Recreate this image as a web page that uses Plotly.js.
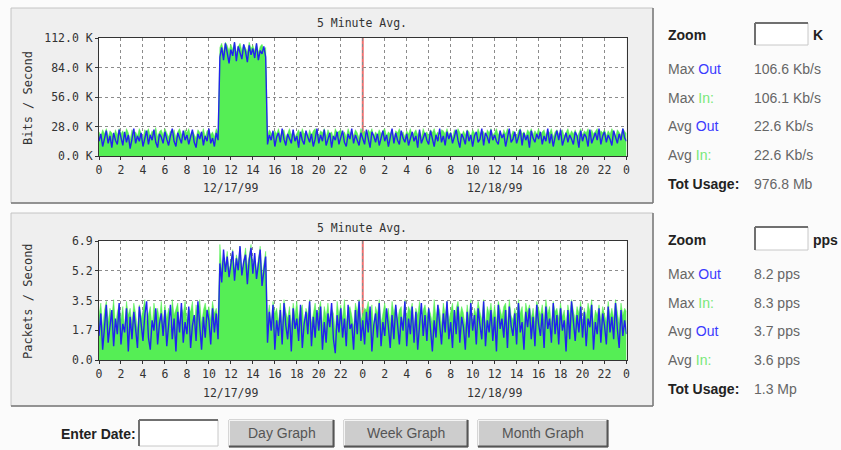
<!DOCTYPE html>
<html><head><meta charset="utf-8">
<script src="https://cdn.plot.ly/plotly-3.0.1.min.js"></script>
<style>html,body{margin:0;padding:0;background:#fbfbfb;}#chart{width:841px;height:450px;}</style>
</head><body><div id="chart"></div>
<script>
// ---- data (10-minute samples, 12/17/99 00:00 .. 12/19/99 00:00) ----
const sampleMinutes = 10;
const hourTickVals = [0,2,4,6,8,10,12,14,16,18,20,22,24,26,28,30,32,34,36,38,40,42,44,46,48];
const hourTickText = ['0','2','4','6','8','10','12','14','16','18','20','22','0','2','4','6','8','10','12','14','16','18','20','22','0'];
const dateLabels = ['12/17/99','12/18/99'];
const dateLabelHours = [12, 36];
const midnightHour = 24;

const bitsOut = [
  14,21,9,17,24,12,19,8,22,15,11,25,
  18,10,23,13,20,7,16,26,12,19,14,22,
  9,17,24,11,20,15,25,13,8,21,18,12,
  23,16,10,19,26,14,9,22,17,12,24,15,
  20,11,18,25,13,8,21,16,23,10,19,14,
  26,12,17,9,22,15,94,103,91,107,98,88,
  101,95,108,90,104,97,92,106,99,89,105,96,
  102,93,107,91,100,97,104,94,11,20,15,24,
  9,18,22,13,26,16,10,21,17,12,25,14,
  19,8,23,15,11,24,18,13,21,9,16,26,
  12,20,14,25,10,17,22,8,19,15,23,11,
  18,24,13,9,21,16,26,12,20,14,10,22,
  17,11,25,15,8,23,19,13,21,10,16,24,
  14,20,9,18,26,12,22,15,11,24,17,13,
  21,10,16,23,14,19,8,25,12,18,22,15,
  11,24,17,9,20,14,26,13,19,10,23,16,
  22,12,18,25,15,8,21,17,11,24,14,20,
  9,19,23,13,16,26,10,22,18,12,25,15,
  20,14,11,24,17,21,9,19,26,13,16,23,
  12,18,25,10,22,15,20,8,24,17,13,21,
  16,23,11,19,14,26,12,21,9,18,24,15,
  25,10,17,22,13,20,16,11,23,19,8,24,
  14,21,18,9,25,12,17,22,15,26,11,19,
  23,13,20,16,10,24,18,12,21,15,26,17,
  14];
const bitsIn = [
  23,19,25,21,26,18,24,22,17,25,20,26,
  21,24,18,26,22,16,25,20,23,19,26,22,
  17,25,22,26,19,24,21,27,18,23,25,20,
  26,22,18,24,20,25,17,23,26,21,19,25,
  22,26,19,24,21,17,25,23,20,26,18,24,
  25,20,23,18,26,22,103,107,99,108,105,100,
  106,101,108,98,104,107,100,106,103,99,108,102,
  105,100,107,98,104,106,101,103,20,25,22,18,
  24,21,26,19,23,25,17,22,26,20,24,18,
  22,25,19,26,21,23,18,25,20,24,26,21,
  19,24,22,26,18,25,21,23,17,26,22,24,
  25,20,23,18,26,21,24,19,25,22,17,26,
  21,24,19,25,22,26,18,23,20,25,21,24,
  26,19,23,21,25,17,24,22,26,20,23,18,
  24,21,26,19,22,25,20,24,18,26,21,23,
  19,25,22,26,20,23,17,25,24,21,26,20,
  23,18,25,21,26,22,19,24,20,25,23,18,
  25,22,19,26,21,24,23,17,25,22,26,20,
  22,26,20,24,18,25,21,26,23,19,24,22,
  18,24,26,21,23,19,25,22,26,20,24,21,
  26,20,23,25,19,24,22,26,18,23,25,21,
  23,25,19,22,26,20,24,21,25,18,23,26,
  20,24,22,26,19,25,21,23,26,20,24,22,
  25,19,24,21,26,22,18,25,23,20,26,24,
  21];
const pktsOut = [
  1.4,2.7,0.6,2.2,3.2,1.0,1.9,2.9,0.8,2.4,1.5,3.3,
  0.9,2.1,1.6,3.0,0.5,2.5,1.2,2.8,1.8,0.7,3.1,2.0,
  1.1,2.6,3.4,1.3,0.6,2.3,1.7,3.0,0.9,2.1,2.7,1.4,
  2.9,0.8,1.9,3.2,1.2,2.4,0.5,2.8,1.6,3.3,1.0,2.2,
  1.5,3.1,0.7,2.0,2.6,1.1,3.4,1.8,0.6,2.5,1.3,2.9,
  2.3,0.9,3.0,1.6,2.7,1.2,5.6,4.5,6.4,5.1,6.0,4.8,
  5.5,6.3,4.6,5.9,5.2,6.6,4.9,5.7,6.1,4.4,5.8,6.5,
  5.0,6.2,4.7,5.6,6.4,4.3,5.3,6.0,1.0,2.8,1.7,3.2,
  0.6,2.3,1.4,2.9,0.9,3.3,2.0,1.2,2.6,0.5,3.0,1.8,
  2.4,1.1,3.2,0.7,2.1,2.8,1.5,3.4,0.8,2.5,1.3,2.9,
  1.7,3.1,0.6,2.2,1.0,2.7,1.9,3.3,1.2,0.4,2.6,1.6,
  3.0,1.3,2.4,0.8,3.2,1.8,2.1,0.6,2.9,1.5,3.4,1.1,
  2.3,0.9,2.8,1.6,3.1,0.5,2.0,2.7,1.3,3.3,0.8,2.2,
  1.4,3.0,1.9,0.7,2.6,1.2,3.2,2.1,0.9,2.5,1.7,3.4,
  0.8,2.4,1.5,3.1,1.0,2.8,0.6,2.0,3.3,1.4,2.6,1.1,
  3.0,1.8,0.5,2.3,1.3,3.2,2.1,0.9,2.7,1.6,3.4,1.2,
  2.2,0.7,2.9,1.5,3.1,1.0,2.5,1.9,0.6,2.8,1.3,3.3,
  1.7,2.6,0.9,3.0,2.0,1.2,3.4,0.8,2.3,1.6,2.9,1.1,
  2.5,0.5,3.2,1.8,2.4,1.3,2.9,0.7,3.1,2.0,1.4,2.7,
  0.9,3.3,1.6,2.2,0.6,2.8,1.9,3.0,1.2,2.5,0.8,3.2,
  2.1,1.4,2.7,0.7,3.1,1.8,2.4,1.0,3.3,1.5,2.6,0.9,
  3.0,1.7,2.3,0.5,2.9,1.2,3.4,2.0,1.1,2.6,1.6,3.1,
  1.3,2.8,0.8,2.4,1.9,3.2,0.6,2.2,1.5,3.0,1.0,2.7,
  2.0,0.9,3.1,1.6,2.5,1.2,3.3,1.8,0.7,2.9,1.4,2.3,
  1.5];
const pktsIn = [
  2.6,3.3,1.9,2.9,3.4,2.2,3.0,2.5,3.5,2.0,2.8,3.2,
  2.3,3.1,1.8,3.4,2.6,3.0,2.1,3.3,2.7,1.7,3.2,2.4,
  2.9,3.5,2.2,2.7,3.1,1.9,3.3,2.5,3.0,2.3,3.4,2.1,
  3.2,2.4,3.0,1.8,3.5,2.6,2.9,3.3,2.0,3.1,2.7,3.4,
  2.2,3.0,2.8,3.4,1.9,3.2,2.5,3.5,2.1,2.9,3.3,2.6,
  3.1,2.3,3.4,2.7,3.0,2.4,6.7,5.3,6.0,5.5,6.3,5.1,
  5.8,6.4,5.2,6.1,5.6,6.6,5.0,5.9,6.5,5.4,6.2,6.7,
  5.3,6.0,5.1,5.8,6.6,4.9,5.6,6.3,2.5,3.2,2.0,3.4,
  2.7,3.0,2.2,3.3,1.9,3.5,2.8,2.4,3.1,2.0,3.3,2.6,
  3.4,2.3,2.9,3.2,1.8,3.0,2.6,3.5,2.1,2.8,3.3,2.4,
  2.9,3.4,2.0,3.1,2.5,3.3,2.2,3.0,2.7,1.7,3.4,2.6,
  3.2,2.4,3.5,2.1,2.9,3.1,2.6,1.9,3.3,2.8,3.5,2.3,
  2.6,3.0,2.9,3.4,2.2,3.2,1.8,3.1,2.7,3.5,2.1,2.8,
  3.3,2.5,3.0,2.1,3.4,2.7,3.2,2.3,2.9,3.1,2.0,3.5,
  2.4,3.1,2.8,3.3,1.9,3.0,2.6,3.4,2.2,2.9,3.2,2.5,
  3.0,2.7,2.1,3.5,2.4,3.2,2.9,2.0,3.3,2.6,3.4,2.3,
  2.8,3.3,2.2,3.0,3.4,2.5,3.1,2.7,1.9,3.2,2.4,3.5,
  2.1,3.0,2.6,3.4,2.8,2.3,3.5,2.0,3.1,2.7,3.3,2.4,
  3.2,2.2,3.4,2.9,2.5,3.1,3.3,2.1,3.5,2.6,2.3,3.0,
  2.5,3.5,2.7,3.1,2.0,3.3,2.8,3.2,2.4,3.0,2.2,3.4,
  3.0,2.6,3.2,2.3,3.5,2.7,3.1,2.1,3.4,2.8,3.0,2.4,
  3.3,2.5,2.9,2.0,3.2,2.6,3.5,2.8,2.3,3.1,2.7,3.4,
  2.2,3.0,2.4,3.3,2.8,3.5,2.1,2.9,2.6,3.2,2.3,3.1,
  2.7,2.2,3.4,2.5,3.0,2.4,3.5,2.9,2.1,3.3,2.6,3.0,
  2.8];

const bitsTickVals = [0,28,56,84,112];
const bitsTickText = ['0.0 K','28.0 K','56.0 K','84.0 K','112.0 K'];
const pktsTickVals = [0,1.725,3.45,5.175,6.9];
const pktsTickText = ['0.0','1.7','3.5','5.2','6.9'];

const statLabels = ['Max <span style="color:#3a3aff">Out</span>','Max <span style="color:#77e877">In:</span>',
  'Avg <span style="color:#3a3aff">Out</span>','Avg <span style="color:#77e877">In:</span>'];
const bitsStatValues = ['106.6 Kb/s','106.1 Kb/s','22.6 Kb/s','22.6 Kb/s'];
const bitsTotal = '976.8 Mb';
const pktsStatValues = ['8.2 pps','8.3 pps','3.7 pps','3.6 pps'];
const pktsTotal = '1.3 Mp';
const buttonLabels = ['Day Graph','Week Graph','Month Graph'];

// ---- layout helpers ----
const W = 841, H = 450;
const X = p => p / W;
const Y = p => 1 - p / H;
const hours = bitsOut.map((_, i) => i * sampleMinutes / 60);

const monoFont = {family: 'DejaVu Sans Mono', size: 11.5, color: '#333'};
const titleFont = {family: 'DejaVu Sans Mono', size: 11.5, color: '#333'};
const sansFont = {family: 'Liberation Sans, Arial', size: 14, color: '#666'};
const boldFont = {family: 'Liberation Sans, Arial', size: 14, color: '#222'};

const GREEN = '#55ee55', BLUE = '#2222ee';
const traces = [
  {x: hours, y: bitsIn, xaxis: 'x', yaxis: 'y', type: 'scatter', mode: 'lines', fill: 'tozeroy',
   fillcolor: GREEN, line: {color: GREEN, width: 0.5}},
  {x: hours, y: bitsOut, xaxis: 'x', yaxis: 'y', type: 'scatter', mode: 'lines',
   line: {color: BLUE, width: 1.4}},
  {x: hours, y: pktsIn, xaxis: 'x2', yaxis: 'y2', type: 'scatter', mode: 'lines', fill: 'tozeroy',
   fillcolor: GREEN, line: {color: GREEN, width: 0.5}},
  {x: hours, y: pktsOut, xaxis: 'x2', yaxis: 'y2', type: 'scatter', mode: 'lines',
   line: {color: BLUE, width: 1.4}}
];

const axisCommon = {
  showgrid: true, gridcolor: '#8c8c8c', griddash: '3px,3px', gridwidth: 1,
  showline: true, mirror: true, linecolor: '#333', linewidth: 1,
  ticks: 'outside', ticklen: 3, tickcolor: '#333', tickfont: monoFont,
  zeroline: false, fixedrange: true
};
const xDomain = [X(99), X(626.5)];
const xaxisBase = Object.assign({}, axisCommon, {range: [0, 48], tickmode: 'array',
  tickvals: hourTickVals, ticktext: hourTickText, domain: xDomain});

const shapes = [];
function rect(x0, y0, x1, y1, fill, line, lw, layer) {
  shapes.push({type: 'rect', xref: 'paper', yref: 'paper', x0: X(x0), x1: X(x1), y0: Y(y1), y1: Y(y0),
    fillcolor: fill, line: {color: line, width: lw}, layer: layer || 'above'});
}
function seg(x0, y0, x1, y1, color, w, layer) {
  shapes.push({type: 'line', xref: 'paper', yref: 'paper', x0: X(x0), x1: X(x1), y0: Y(y0), y1: Y(y1),
    line: {color: color, width: w}, layer: layer || 'above'});
}
// panels
[[8, 203], [213, 406]].forEach(([t, b]) => {
  rect(11, t, 653, b, '#efefef', '#c4c4c4', 1, 'below');
  seg(11, b, 653, b, '#7a7a7a', 1.5, 'below');
  seg(653, t, 653, b, '#7a7a7a', 1.5, 'below');
});
// plot backgrounds
rect(99, 38, 626.5, 156, '#ffffff', 'rgba(0,0,0,0)', 0, 'below');
rect(99, 241, 626.5, 360, '#ffffff', 'rgba(0,0,0,0)', 0, 'below');
// midnight markers
shapes.push({type: 'line', xref: 'x', yref: 'paper', x0: midnightHour, x1: midnightHour, y0: Y(156), y1: Y(38),
  line: {color: '#f07070', width: 2}, layer: 'below'});
shapes.push({type: 'line', xref: 'x2', yref: 'paper', x0: midnightHour, x1: midnightHour, y0: Y(360), y1: Y(241),
  line: {color: '#f07070', width: 2}, layer: 'below'});
// input boxes
function inputBox(x0, y0, x1, y1) {
  rect(x0, y0, x1, y1, '#ffffff', '#c8c8c8', 1);
  seg(x0, y0, x1, y0, '#707070', 2);
  seg(x0, y0, x0, y1, '#707070', 2);
}
inputBox(755, 23, 808, 45);
inputBox(755, 227, 808, 250);
inputBox(139, 420, 218, 446);
// buttons
const buttonBoxes = [[229, 334], [344, 468], [478, 608]];
buttonBoxes.forEach(([a, b]) => {
  rect(a, 420, b, 447, '#cdcdcd', '#b0b0b0', 1);
  seg(a, 420.5, b, 420.5, '#f4f4f4', 1);
  seg(a + 0.5, 420, a + 0.5, 447, '#f4f4f4', 1);
  seg(a, 446.5, b, 446.5, '#555', 2);
  seg(b - 0.5, 420, b - 0.5, 447, '#555', 2);
});

const ann = [];
function txt(x, y, text, font, xanchor, extra) {
  ann.push(Object.assign({xref: 'paper', yref: 'paper', x: X(x), y: Y(y), text: text, font: font,
    xanchor: xanchor || 'center', yanchor: 'middle', showarrow: false, borderpad: 0}, extra || {}));
}
// chart titles and labels
txt(362, 23, '5 Minute Avg.', titleFont);
txt(362, 228, '5 Minute Avg.', titleFont);
dateLabels.forEach((d, i) => {
  ann.push({xref: 'x', yref: 'paper', x: dateLabelHours[i], y: Y(188), text: d, font: monoFont,
    showarrow: false, xanchor: 'center', yanchor: 'middle'});
  ann.push({xref: 'x2', yref: 'paper', x: dateLabelHours[i], y: Y(393), text: d, font: monoFont,
    showarrow: false, xanchor: 'center', yanchor: 'middle'});
});
txt(28, 98, 'Bits / Second', Object.assign({}, monoFont, {size: 12}), 'center', {textangle: -90});
txt(28, 301, 'Packets / Second', Object.assign({}, monoFont, {size: 12}), 'center', {textangle: -90});

// right panels
function statBlock(top, unit, values, total) {
  txt(667, top, '<b>Zoom</b>', boldFont, 'left');
  txt(812, top, '<b>' + unit + '</b>', boldFont, 'left');
  statLabels.forEach((l, i) => {
    txt(667, top + 34 + i * 28.7, l, sansFont, 'left');
    txt(753, top + 34 + i * 28.7, values[i], sansFont, 'left');
  });
  txt(667, top + 34 + 4 * 28.7, '<b>Tot Usage:</b>', boldFont, 'left');
  txt(753, top + 34 + 4 * 28.7, total, sansFont, 'left');
}
statBlock(35, 'K', bitsStatValues, bitsTotal);
statBlock(240, 'pps', pktsStatValues, pktsTotal);

// bottom controls
txt(137, 434, '<b>Enter Date:</b>', {family: 'Liberation Sans, Arial', size: 14, color: '#222'}, 'right');
buttonLabels.forEach((b, i) => {
  const [a, c] = buttonBoxes[i];
  txt((a + c) / 2, 433, b, {family: 'Liberation Sans, Arial', size: 14, color: '#555'});
});

const layout = {
  width: W, height: H, margin: {l: 0, r: 0, t: 0, b: 0},
  paper_bgcolor: '#fbfbfb', plot_bgcolor: 'rgba(0,0,0,0)', showlegend: false,
  xaxis: Object.assign({}, xaxisBase, {anchor: 'y'}),
  yaxis: Object.assign({}, axisCommon, {range: [0, 112], tickmode: 'array', tickvals: bitsTickVals,
    ticktext: bitsTickText, domain: [Y(156), Y(38)], anchor: 'x'}),
  xaxis2: Object.assign({}, xaxisBase, {anchor: 'y2'}),
  yaxis2: Object.assign({}, axisCommon, {range: [0, 6.9], tickmode: 'array', tickvals: pktsTickVals,
    ticktext: pktsTickText, domain: [Y(360), Y(241)], anchor: 'x2'}),
  shapes: shapes, annotations: ann
};
Plotly.newPlot('chart', traces, layout, {staticPlot: true, displayModeBar: false});
</script></body></html>
